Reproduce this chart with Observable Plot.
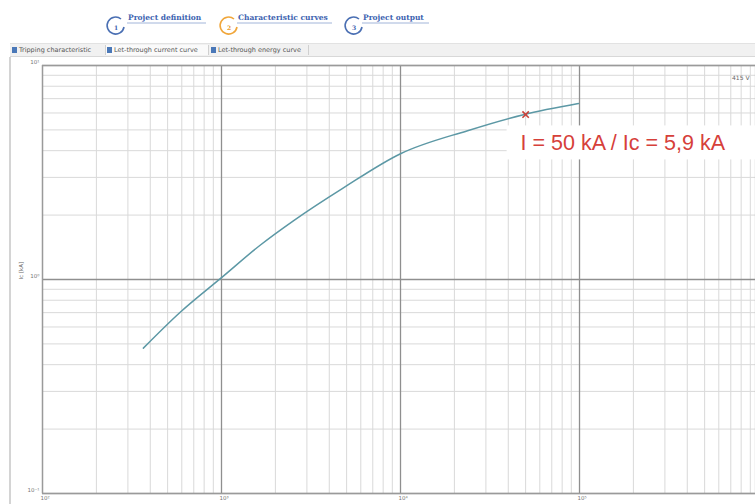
<!DOCTYPE html>
<html>
<head>
<meta charset="utf-8">
<script src="https://cdn.jsdelivr.net/npm/d3@7"></script>
<script src="https://cdn.jsdelivr.net/npm/@observablehq/plot@0.6"></script>
<style>
  html, body { margin: 0; padding: 0; background: #fff; width: 755px; height: 504px; overflow: hidden; font-family: "DejaVu Sans", sans-serif; }
  #header { position: absolute; left: 0; top: 0; width: 755px; height: 57px; }
  #chart { position: absolute; left: 0; top: 57px; }
  #leftbar { position: absolute; left: 9px; top: 57px; width: 2px; height: 447px; background: #d4d4d4; }
  .tabs { position: absolute; left: 10px; top: 43px; width: 745px; height: 12px; background: #f1f1f1; border-top: 1px solid #e2e2e2; border-bottom: 1px solid #d8d8d8; font-size: 6.5px; color: #555; }
  .tab { position: absolute; top: 1px; height: 10px; line-height: 10px; border-right: 1px solid #d0d0d0; padding-left: 8px; }
  .tab i { position: absolute; left: 1px; top: 2px; width: 5px; height: 6px; background: #4a78b8; }
</style>
</head>
<body>
<div id="header">
  <svg width="755" height="43" style="position:absolute;left:0;top:0">
    <g font-family="DejaVu Serif, serif" font-weight="bold" font-size="7.5" fill="#3d63b0">
      <path d="M121,19 A8.5,8.5 0 1 0 124,27" fill="none" stroke="#4a6fb3" stroke-width="1.6"/>
      <text x="116" y="30" font-size="6" text-anchor="middle">1</text>
      <text x="128" y="20">Project definition</text>
      <line x1="127" y1="23" x2="206" y2="23" stroke="#8aa2cf" stroke-width="0.8"/>
      <path d="M234,19 A8.5,8.5 0 1 0 237,27" fill="none" stroke="#f0a63a" stroke-width="1.6"/>
      <text x="229" y="30" font-size="6" text-anchor="middle" fill="#e89a2a">2</text>
      <text x="238" y="20">Characteristic curves</text>
      <line x1="237" y1="23" x2="332" y2="23" stroke="#8aa2cf" stroke-width="0.8"/>
      <path d="M359,19 A8.5,8.5 0 1 0 362,27" fill="none" stroke="#4a6fb3" stroke-width="1.6"/>
      <text x="354" y="30" font-size="6" text-anchor="middle">3</text>
      <text x="363" y="20">Project output</text>
      <line x1="362" y1="23" x2="429" y2="23" stroke="#8aa2cf" stroke-width="0.8"/>
    </g>
  </svg>
  <div class="tabs">
    <div class="tab" style="left:1px;width:86px"><i></i>Tripping characteristic</div>
    <div class="tab" style="left:96px;width:94px;background:#fafafa"><i></i>Let-through current curve</div>
    <div class="tab" style="left:200px;width:90px"><i></i>Let-through energy curve</div>
  </div>
</div>
<div id="leftbar"></div>
<div id="chart"></div>
<script>
// Let-through current curve (I prospective [A] -> Ic [kA])
const currentA = [366, 590, 1000, 1650, 2520, 4800, 10000, 23700, 48600, 98600];
const icKA     = [0.478, 0.705, 1.02, 1.45, 1.88, 2.68, 3.87, 4.96, 5.89, 6.64];
// Marked operating point
const markI = [50000];
const markIc = [5.9];
const markLabel = ["I = 50 kA / Ic = 5,9 kA"];
const voltageLabel = ["415 V"];
const yLabel = ["Ic [kA]"];
// Axis decades
const xDecades = [100, 1000, 10000, 100000];
const yDecades = [0.1, 1, 10];
const xDomain = [100, 962000];
const yDomain = [0.1, 10];

const curve = currentA.map((x, i) => ({x, y: icKA[i]}));
const mark = markI.map((x, i) => ({x, y: markIc[i], label: markLabel[i]}));

function minors(lo, hi) {
  const out = [];
  for (let d = lo; d < hi; d *= 10) for (let k = 2; k <= 9; k++) out.push(d * k);
  return out;
}
const xMinor = minors(100, 1e6).filter(v => v <= xDomain[1]);
const xMajor = [100, 1000, 10000, 100000];
const yMinor = minors(0.1, 10);
const yMajor = [0.1, 1, 10];

const sup = {"-": "⁻", "0": "⁰", "1": "¹", "2": "²", "3": "³", "4": "⁴", "5": "⁵", "6": "⁶"};
const fmt = d => "10" + String(Math.round(Math.log10(d))).split("").map(c => sup[c]).join("");

const chart = Plot.plot({
  width: 755,
  height: 447,
  marginTop: 8,
  marginBottom: 11,
  marginLeft: 42,
  marginRight: 0,
  style: {fontFamily: "DejaVu Sans, sans-serif", background: "transparent"},
  x: {type: "log", domain: xDomain},
  y: {type: "log", domain: yDomain},
  marks: [
    Plot.ruleX(xMinor, {stroke: "#d9d9d9", strokeWidth: 1}),
    Plot.ruleY(yMinor, {stroke: "#d9d9d9", strokeWidth: 1}),
    Plot.ruleX(xMajor, {stroke: "#8f8f8f", strokeWidth: 1.3}),
    Plot.ruleY(yMajor, {stroke: "#8f8f8f", strokeWidth: 1.3}),
    Plot.frame({stroke: "#9a9a9a", strokeWidth: 1.2}),
    Plot.axisX({ticks: xDecades, tickFormat: fmt, tickSize: 0, tickPadding: 3, fontSize: 5.5, fill: "#777", textAnchor: "start", dx: -2, label: null}),
    Plot.axisY({ticks: yDecades, tickFormat: fmt, tickSize: 0, tickPadding: 3, fontSize: 5.5, fill: "#777", dy: -3, label: null}),
    Plot.text(yLabel, {frameAnchor: "left", dx: -21, rotate: -90, fontSize: 5.5, fill: "#666"}),
    Plot.text(voltageLabel, {frameAnchor: "top-right", dx: -6, dy: 10, fontSize: 6, fill: "#666"}),
    Plot.line(curve, {x: "x", y: "y", curve: "monotone-x", stroke: "#5c98a5", strokeWidth: 1.5}),
    Plot.dot(mark, {x: "x", y: "y", symbol: "times", r: 3, stroke: "#c8423a", strokeWidth: 1.6}),
    Plot.text(mark, {x: "x", y: "y", text: "label", textAnchor: "start", dx: -5, dy: 29, fontSize: 21.5, fill: "#d6403a", fontFamily: "Liberation Sans, Arial, sans-serif"})
  ]
});
document.getElementById("chart").append(chart);

// white box behind the annotation
const t = Array.from(chart.querySelectorAll("text")).find(e => e.textContent === markLabel[0]);
if (t) {
  const b = t.getBBox();
  const r = document.createElementNS("http://www.w3.org/2000/svg", "rect");
  const x0 = b.x - 14;
  r.setAttribute("x", x0);
  r.setAttribute("y", b.y - 6);
  r.setAttribute("width", 760 - x0);
  r.setAttribute("height", b.height + 10);
  r.setAttribute("fill", "white");
  const tr = t.getAttribute("transform");
  if (tr) r.setAttribute("transform", tr);
  t.parentNode.insertBefore(r, t);
}
</script>
</body>
</html>
